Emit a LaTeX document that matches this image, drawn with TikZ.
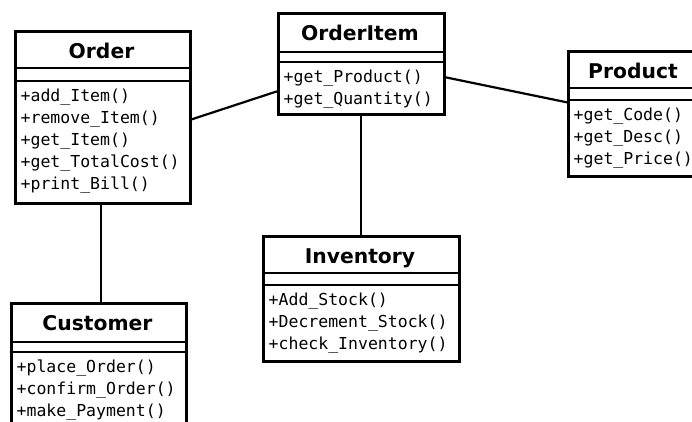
\documentclass[tikz,border=0pt]{standalone}
\usepackage{fontspec}
\newfontfamily\titlefont{DejaVu Sans}
\newfontfamily\methodfont{DejaVu Sans Mono}

\tikzset{
  classbox/.style={draw, line width=2.7pt, inner sep=0pt, fill=white},
  classline/.style={line width=2.7pt},
  classtitle/.style={font=\titlefont\bfseries\fontsize{20.3}{22}\selectfont, inner sep=0pt, anchor=base},
  method/.style={font=\methodfont\fontsize{16.5}{20}\selectfont, inner sep=0pt, anchor=base west},
  assoc/.style={line width=2.2pt},
}

% #1 node name, #2 x, #3 y, #4 width, #5 height,
% #6 title compartment height, #7 offset of the operations compartment,
% #8 class name, #9 operations
\newcommand\umlclass[9]{%
  \node[classbox, minimum width=#4pt, minimum height=#5pt, anchor=north west] (#1) at (#2,#3) {};
  \draw[classline] ([shift={(0,-#6pt)}]#1.north west) -- ([shift={(0,-#6pt)}]#1.north east);
  \draw[classline] ([shift={(0,-#7pt)}]#1.north west) -- ([shift={(0,-#7pt)}]#1.north east);
  \node[classtitle] (#1-title) at ({#2+#4/2},{#3+28.5}) {#8};
  \foreach \op [count=\k from 0] in {#9}
    \node[method] (#1-op\k) at ({#2+6.5},{#3+#7+20.5+22*\k}) {\op};
}

\begin{document}
\begin{tikzpicture}[x=1pt,y=-1pt]
  \useasboundingbox (0,0) rectangle (692,422);
  \clip (0,0) rectangle (692,422);
  \fill[white] (0,0) rectangle (692,422);

  \umlclass{order}{14}{30}{175}{172}{38}{51}{Order}
    {+add\_Item(),+remove\_Item(),+get\_Item(),+get\_TotalCost(),+print\_Bill()}
  \umlclass{orderitem}{277}{12}{166}{101}{40}{50}{OrderItem}
    {+get\_Product(),+get\_Quantity()}
  \umlclass{product}{567}{50}{132}{125}{38}{50}{Product}
    {+get\_Code(),+get\_Desc(),+get\_Price()}
  \umlclass{customer}{10}{302}{175}{132}{40}{50}{Customer}
    {+place\_Order(),+confirm\_Order(),+make\_Payment()}
  \umlclass{inventory}{262}{235}{196}{125}{38}{50}{Inventory}
    {+Add\_Stock(),+Decrement\_Stock(),+check\_Inventory()}

  % associations
  \draw[assoc] ([yshift=-2pt]order.east) -- ([yshift=-27.5pt]orderitem.west);
  \draw[assoc] ([yshift=-13.5pt]orderitem.east) -- ([yshift=11.5pt]product.west);
  \draw[assoc] ([xshift=-1.5pt]order.south) -- ([xshift=-1.5pt]order.south |- customer.north);
  \draw[assoc] (orderitem.south) -- (inventory.north);
\end{tikzpicture}
\end{document}
